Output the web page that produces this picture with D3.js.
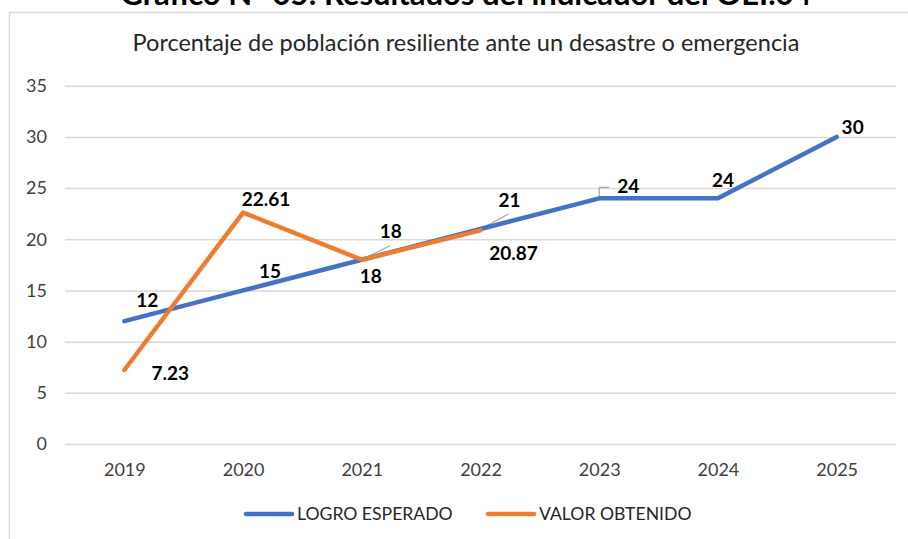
<!DOCTYPE html>
<html lang="es">
<head>
    <meta charset="UTF-8">
    <title>Gráfico N° 05</title>
    <style>
        body { margin: 0; background: #fff; }
        svg text { font-family: Lato, "Open Sans", sans-serif; }
    </style>
</head>
<body>
    <div id="wrapper"></div>
    <script src="https://d3js.org/d3.v7.min.js"></script>
    <script>
        // datos del gráfico
        const years = ['2019', '2020', '2021', '2022', '2023', '2024', '2025'];
        const logroEsperado = [12, 15, 18, 21, 24, 24, 30];
        const valorObtenido = [7.23, 22.61, 18, 20.87];
        const yTicks = [0, 5, 10, 15, 20, 25, 30, 35];
        const seriesNames = ['LOGRO ESPERADO', 'VALOR OBTENIDO'];

        // posición de las etiquetas respecto al punto (px)
        const blueLabelOffsets = [[23, -21], [27, -19], [29, -28], [29, -29], [29, -12], [5, -18], [16, -10]];
        const orangeLabelOffsets = [[46, 3], [23, -13], [9, 17], [33, 23]];

        const width = 908, height = 539;
        const blue = '#4472C4', orange = '#ED7D31';

        const svg = d3.select('#wrapper').append('svg')
            .attr('width', width)
            .attr('height', height);

        // marco del gráfico
        svg.append('rect')
            .attr('x', 9.5).attr('y', 12.5)
            .attr('width', 940).attr('height', 600)
            .attr('fill', 'none')
            .attr('stroke', '#d9d9d9')
            .attr('stroke-width', 1.5);

        // título del documento (cortado arriba, como en el original)
        svg.append('text')
            .attr('x', 466).attr('y', 5)
            .attr('text-anchor', 'middle')
            .attr('font-size', 31)
            .attr('font-weight', 'bold')
            .attr('fill', '#000')
            .text('Gráfico N° 05: Resultados del indicador del OEI.04');

        svg.append('text')
            .attr('x', 466).attr('y', 51)
            .attr('text-anchor', 'middle')
            .attr('font-size', 23.5)
            .attr('fill', '#262626')
            .text('Porcentaje de población resiliente ante un desastre o emergencia');

        const plot = { left: 65, right: 896, top: 85.7, bottom: 444 };

        const x = d3.scalePoint()
            .domain(years)
            .range([plot.left, plot.right])
            .padding(0.5);

        const y = d3.scaleLinear()
            .domain([0, 35])
            .range([plot.bottom, plot.top]);

        // líneas de cuadrícula
        svg.append('g')
            .attr('transform', `translate(${plot.left},0)`)
            .call(d3.axisLeft(y).tickValues(yTicks).tickSize(-(plot.right - plot.left)).tickPadding(18))
            .call(g => g.select('.domain').remove())
            .call(g => g.selectAll('.tick line').attr('stroke', '#d9d9d9').attr('stroke-width', 1.5))
            .call(g => g.selectAll('.tick text')
                .attr('fill', '#404040')
                .attr('font-size', 18)
                .attr('font-family', 'Lato, sans-serif'));

        svg.append('g')
            .attr('transform', `translate(0,${plot.bottom})`)
            .call(d3.axisBottom(x).tickSize(0).tickPadding(19))
            .call(g => g.select('.domain').remove())
            .call(g => g.selectAll('.tick text')
                .attr('fill', '#404040')
                .attr('font-size', 18)
                .attr('font-family', 'Lato, sans-serif'));

        const line = d3.line()
            .x((d, i) => x(years[i]))
            .y(d => y(d));

        // líneas guía de etiquetas
        const leaders = svg.append('g').attr('stroke', '#a6a6a6').attr('stroke-width', 1.2).attr('fill', 'none');
        [2, 3].forEach(i => {
            const px = x(years[i]), py = y(logroEsperado[i]);
            leaders.append('line')
                .attr('x1', px).attr('y1', py)
                .attr('x2', px + blueLabelOffsets[i][0] - 1).attr('y2', py + blueLabelOffsets[i][1] + 14);
        });
        {
            const px = x(years[4]), py = y(logroEsperado[4]);
            leaders.append('path')
                .attr('d', `M${px},${py - 1}V${py - 11}H${px + 10}`);
        }

        svg.append('path')
            .datum(logroEsperado)
            .attr('d', line)
            .attr('fill', 'none')
            .attr('stroke', blue)
            .attr('stroke-width', 4.5)
            .attr('stroke-linecap', 'round')
            .attr('stroke-linejoin', 'round');

        svg.append('path')
            .datum(valorObtenido)
            .attr('d', line)
            .attr('fill', 'none')
            .attr('stroke', orange)
            .attr('stroke-width', 4.5)
            .attr('stroke-linecap', 'round')
            .attr('stroke-linejoin', 'round');

        // etiquetas de datos
        const fmt = d => (Number.isInteger(d) ? d : d.toFixed(2));
        svg.append('g').selectAll('text')
            .data(logroEsperado)
            .enter()
            .append('text')
            .attr('x', (d, i) => x(years[i]) + blueLabelOffsets[i][0])
            .attr('y', (d, i) => y(d) + blueLabelOffsets[i][1])
            .attr('dy', '0.35em')
            .attr('text-anchor', 'middle')
            .attr('font-size', 19)
            .attr('font-weight', 'bold')
            .attr('fill', '#000')
            .text(fmt);

        svg.append('g').selectAll('text')
            .data(valorObtenido)
            .enter()
            .append('text')
            .attr('x', (d, i) => x(years[i]) + orangeLabelOffsets[i][0])
            .attr('y', (d, i) => y(d) + orangeLabelOffsets[i][1])
            .attr('dy', '0.35em')
            .attr('text-anchor', 'middle')
            .attr('font-size', 19)
            .attr('font-weight', 'bold')
            .attr('fill', '#000')
            .text(fmt);

        // leyenda
        const legend = svg.append('g').attr('transform', 'translate(0,514)');
        const legendItems = [{ name: seriesNames[0], color: blue, x: 246 }, { name: seriesNames[1], color: orange, x: 488 }];
        legendItems.forEach(item => {
            legend.append('line')
                .attr('x1', item.x).attr('x2', item.x + 46)
                .attr('y1', 0).attr('y2', 0)
                .attr('stroke', item.color)
                .attr('stroke-width', 4.5)
                .attr('stroke-linecap', 'round');
            legend.append('text')
                .attr('x', item.x + 51)
                .attr('y', 0)
                .attr('dy', '0.35em')
                .attr('font-size', 17.6)
                .attr('fill', '#262626')
                .text(item.name);
        });
    </script>
</body>
</html>
